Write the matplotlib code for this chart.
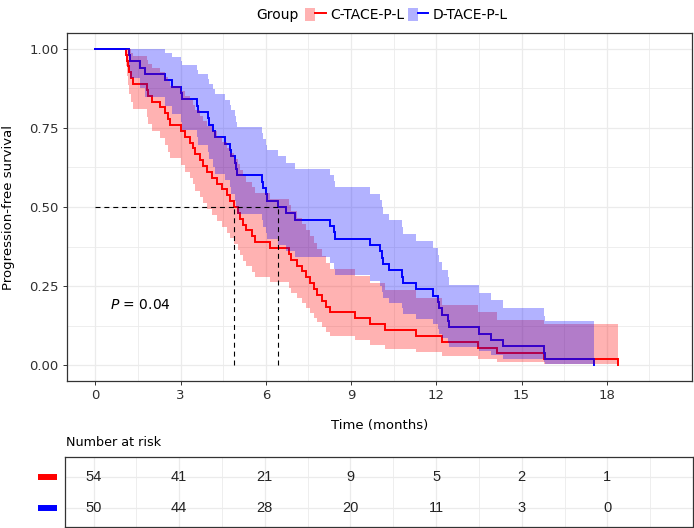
import numpy as np
import matplotlib
matplotlib.use("Agg")
import matplotlib.pyplot as plt
from matplotlib.patches import Patch
from matplotlib.lines import Line2D
from matplotlib.legend_handler import HandlerTuple
import matplotlib.transforms as mtransforms

# ---------------- data ----------------
groups = ["C-TACE-P-L", "D-TACE-P-L"]
colors = ["#FF0000", "#0000FF"]

# progression times (months), no censoring visible
red_event_times = [1.09, 1.12, 1.16, 1.19, 1.26, 1.33, 1.80, 1.86, 1.98, 2.27,
                   2.45, 2.56, 2.62, 3.03, 3.15, 3.33, 3.42, 3.50, 3.68, 3.80,
                   3.92, 4.10, 4.27, 4.45, 4.62, 4.75, 4.89, 5.03, 5.08, 5.21,
                   5.30, 5.50, 5.60, 6.15, 6.80, 6.90, 7.09, 7.27, 7.40, 7.56,
                   7.70, 7.80, 7.98, 8.10, 8.27, 9.15, 9.68, 10.21, 11.27, 12.21,
                   13.45, 14.15, 15.80, 18.39]
blue_event_times = [1.19, 1.21, 1.56, 1.74, 2.45, 2.68, 3.02, 3.05, 3.56, 3.60,
                    3.97, 4.00, 4.15, 4.20, 4.57, 4.75, 4.78, 4.93, 4.96, 5.00,
                    5.87, 5.90, 6.02, 6.05, 6.41, 6.70, 7.03, 8.27, 8.40, 8.45,
                    9.68, 10.00, 10.09, 10.12, 10.33, 10.80, 10.83, 11.30, 11.90, 12.05,
                    12.10, 12.20, 12.40, 12.45, 13.50, 13.92, 14.33, 15.80, 15.82, 17.56]

risk_times = [0, 3, 6, 9, 12, 15, 18]
risk_red = [54, 41, 21, 9, 5, 2, 1]
risk_blue = [50, 44, 28, 20, 11, 3, 0]

median_times = [4.89, 6.41]
median_level = 0.5
p_label = r"$P$ = 0.04"
p_pos = (0.51, 0.19)

x_ticks = [0, 3, 6, 9, 12, 15, 18]
x_minor = [1.5, 4.5, 7.5, 10.5, 13.5, 16.5, 19.5]
y_ticks = [0.0, 0.25, 0.5, 0.75, 1.0]
y_minor = [0.125, 0.375, 0.625, 0.875]


def km_curve(times):
    t = np.sort(np.asarray(times, float))
    ut, d = np.unique(t, return_counts=True)
    n = len(t) - np.concatenate([[0], np.cumsum(d)[:-1]])
    s = np.cumprod(1 - d / n)
    with np.errstate(divide="ignore", invalid="ignore"):
        g = np.cumsum(d / (n * (n - d)))
        se = np.sqrt(g)
        lo = s * np.exp(-1.96 * se)
        hi = np.minimum(1.0, s * np.exp(1.96 * se))
    x = np.concatenate([[0.0], ut])
    y = np.concatenate([[1.0], s])
    ylo = np.concatenate([[1.0], lo])
    yhi = np.concatenate([[1.0], hi])
    if s[-1] == 0:
        ylo[-1] = ylo[-2]
        yhi[-1] = yhi[-2]
    return x, y, ylo, yhi


GRID = "#EBEBEB"
BORDER = "#333333"
TXT = "#303030"
plt.rcParams["font.family"] = ["DejaVu Sans"]

fig = plt.figure(figsize=(6.94, 5.28), dpi=100)
ax = fig.add_axes([67 / 694, 1 - 381 / 528, 625 / 694, 348 / 528])

curves = [km_curve(red_event_times), km_curve(blue_event_times)]
for (x, y, lo, hi), c in zip(curves, colors):
    ax.step(x, y, where="post", color=c, lw=1.4, zorder=3, solid_joinstyle="miter")
for (x, y, lo, hi), c in zip(curves, colors):
    ax.fill_between(x, lo, hi, step="post", color=c, alpha=0.3, lw=0, zorder=4)

# median lines
dash = (0, (4.5, 3.5))
ax.plot([0, max(median_times)], [median_level, median_level], color="black",
        lw=0.8, ls=dash, zorder=5)
for m in median_times:
    ax.plot([m, m], [0, median_level], color="black", lw=0.8, ls=dash, zorder=5)

ax.text(p_pos[0], p_pos[1], p_label, fontsize=10, va="center", ha="left", color="black")

ax.set_xlim(-1, 21)
ax.set_ylim(-0.05, 1.05)
ax.set_xticks(x_ticks)
ax.set_xticks(x_minor, minor=True)
ax.set_yticks(y_ticks)
ax.set_yticks(y_minor, minor=True)
ax.set_yticklabels([f"{v:.2f}" for v in y_ticks])
ax.grid(True, which="major", color=GRID, lw=0.9, zorder=0)
ax.grid(True, which="minor", color=GRID, lw=0.6, zorder=0)
ax.set_axisbelow(True)
ax.tick_params(which="major", direction="out", length=3, width=0.7, color=BORDER,
               labelsize=9.5, labelcolor=TXT, pad=3)
ax.tick_params(which="minor", length=0)
for sp in ax.spines.values():
    sp.set_color(BORDER)
    sp.set_linewidth(0.9)
ax.set_xlabel("Time (months)", fontsize=9.5, color="black")
ax.xaxis.set_label_coords(0.5, -0.108)
ax.set_ylabel("Progression-free survival", fontsize=9.5, color="black")
ax.yaxis.set_label_coords(-0.083, 0.5)

# legend
handles = [(Patch(facecolor=c, alpha=0.3, lw=0), Line2D([0], [0], color=c, lw=1.4))
           for c in colors]
fig.text(256 / 694, 1 - 15 / 528, "Group", fontsize=10, va="center", ha="left")
fig.legend(handles, groups, handler_map={tuple: HandlerTuple(ndivide=None, pad=0)},
           ncol=2, loc="center left", bbox_to_anchor=(305 / 694, 1 - 15 / 528),
           frameon=False, fontsize=10, handlelength=1.5, handleheight=1.15,
           handletextpad=0.3, columnspacing=0.25, borderaxespad=0, borderpad=0)

# risk table
axr = fig.add_axes([65 / 694, 1 - 526.7 / 528, 628 / 694, 70 / 528])
axr.set_xlim(-1, 21)
axr.set_ylim(0.4, 2.64)
axr.set_xticks(x_ticks)
axr.set_xticks(x_minor, minor=True)
axr.set_yticks([1, 2])
axr.grid(True, which="major", color=GRID, lw=0.9, zorder=0)
axr.grid(True, which="minor", axis="x", color=GRID, lw=0.6, zorder=0)
axr.tick_params(which="both", length=0, labelbottom=False, labelleft=False)
for sp in axr.spines.values():
    sp.set_color(BORDER)
    sp.set_linewidth(0.9)
for row, vals in zip([2, 1], [risk_red, risk_blue]):
    for t, v in zip(risk_times, vals):
        axr.text(t, row, str(v), ha="center", va="center", fontsize=10.5,
                 family="Liberation Sans", color="#222222")
trans = mtransforms.blended_transform_factory(axr.transAxes, axr.transData)
for row, c in zip([2, 1], colors):
    axr.plot([-0.043, -0.0125], [row, row], transform=trans, color=c, lw=4.3,
             solid_capstyle="butt", clip_on=False)
fig.text(66 / 694, 1 - 443 / 528, "Number at risk", fontsize=9.2, va="center", ha="left")

fig.savefig("out.png", dpi=100)
